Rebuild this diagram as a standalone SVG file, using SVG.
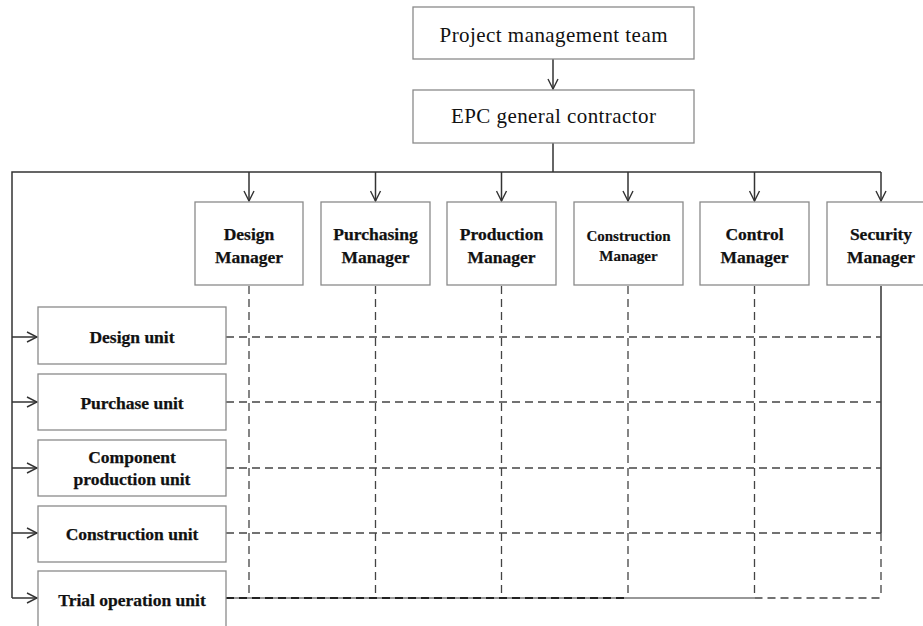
<svg xmlns="http://www.w3.org/2000/svg" width="923" height="626" viewBox="0 0 923 626">
<style>
.box{fill:#fff;stroke:#8a8a8a;stroke-width:1.3}
.t{font-family:"Liberation Serif",serif;fill:#111;text-anchor:middle}
.top{font-size:21px}
.b{font-size:17.5px;font-weight:bold;stroke:#111;stroke-width:0.25}
.s{font-size:15px;font-weight:bold;stroke:#111;stroke-width:0.2}
.ln{fill:none;stroke:#333;stroke-width:1.5}
.dl{fill:none;stroke:#444;stroke-width:1.3;stroke-dasharray:8 5}
</style>
<defs>
<marker id="ah" viewBox="0 0 12 12" refX="11" refY="6" markerWidth="12" markerHeight="12" markerUnits="userSpaceOnUse" orient="auto">
<path d="M1,1 L11,6 L1,11" fill="none" stroke="#333" stroke-width="1.4"/>
</marker>
</defs>
<rect width="923" height="626" fill="#fff"/>
<g id="connectors">
<line class="ln" x1="553" y1="59" x2="553" y2="89" marker-end="url(#ah)"/>
<line class="ln" x1="553" y1="143" x2="553" y2="172"/>
<polyline class="ln" points="12,598 12,172 881,172"/>
<line class="ln" x1="249" y1="172" x2="249" y2="201" marker-end="url(#ah)"/>
<line class="ln" x1="375.5" y1="172" x2="375.5" y2="201" marker-end="url(#ah)"/>
<line class="ln" x1="501.5" y1="172" x2="501.5" y2="201" marker-end="url(#ah)"/>
<line class="ln" x1="628" y1="172" x2="628" y2="201" marker-end="url(#ah)"/>
<line class="ln" x1="754.5" y1="172" x2="754.5" y2="201" marker-end="url(#ah)"/>
<line class="ln" x1="881" y1="172" x2="881" y2="201" marker-end="url(#ah)"/>
<line class="ln" x1="12" y1="337" x2="37" y2="337" marker-end="url(#ah)"/>
<line class="ln" x1="12" y1="402" x2="37" y2="402" marker-end="url(#ah)"/>
<line class="ln" x1="12" y1="468" x2="37" y2="468" marker-end="url(#ah)"/>
<line class="ln" x1="12" y1="533" x2="37" y2="533" marker-end="url(#ah)"/>
<line class="ln" x1="12" y1="598" x2="37" y2="598" marker-end="url(#ah)"/>
<line class="dl" x1="249" y1="286" x2="249" y2="598"/>
<line class="dl" x1="375.5" y1="286" x2="375.5" y2="598"/>
<line class="dl" x1="501.5" y1="286" x2="501.5" y2="598"/>
<line class="dl" x1="628" y1="286" x2="628" y2="598"/>
<line class="dl" x1="754.5" y1="286" x2="754.5" y2="598"/>
<line class="ln" x1="881" y1="286" x2="881" y2="533"/>
<line class="dl" x1="881" y1="533" x2="881" y2="598"/>
<line class="dl" x1="226" y1="337" x2="881" y2="337"/>
<line class="dl" x1="226" y1="402" x2="881" y2="402"/>
<line class="dl" x1="226" y1="468" x2="881" y2="468"/>
<line class="dl" x1="226" y1="533" x2="881" y2="533"/>
<line class="ln" x1="226" y1="598" x2="754.5" y2="598" style="stroke-width:1.2"/>
<line class="dl" x1="226" y1="598" x2="628" y2="598" style="stroke-width:2.2;stroke:#222"/>
<line class="dl" x1="754.5" y1="598" x2="881" y2="598"/>
</g>
<g id="n-pmt"><rect class="box" x="413" y="7" width="281" height="52"/><text class="t top" x="553.5" y="42" textLength="228" lengthAdjust="spacing">Project management team</text></g>
<g id="n-epc"><rect class="box" x="413" y="90" width="281" height="53"/><text class="t top" x="553.5" y="123" textLength="205" lengthAdjust="spacing">EPC general contractor</text></g>
<g id="n-design-mgr"><rect class="box" x="195" y="202" width="108" height="83"/><text class="t b" x="249" y="240">Design</text><text class="t b" x="249" y="263">Manager</text></g>
<g id="n-purch-mgr"><rect class="box" x="321" y="202" width="109" height="83"/><text class="t b" x="375.5" y="240">Purchasing</text><text class="t b" x="375.5" y="263">Manager</text></g>
<g id="n-prod-mgr"><rect class="box" x="447" y="202" width="109" height="83"/><text class="t b" x="501.5" y="240">Production</text><text class="t b" x="501.5" y="263">Manager</text></g>
<g id="n-cons-mgr"><rect class="box" x="574" y="202" width="109" height="83"/><text class="t s" x="628.5" y="241">Construction</text><text class="t s" x="628.5" y="261">Manager</text></g>
<g id="n-ctrl-mgr"><rect class="box" x="700" y="202" width="109" height="83"/><text class="t b" x="754.5" y="240">Control</text><text class="t b" x="754.5" y="263">Manager</text></g>
<g id="n-sec-mgr"><rect class="box" x="827" y="202" width="108" height="83"/><text class="t b" x="881" y="240">Security</text><text class="t b" x="881" y="263">Manager</text></g>
<g id="n-design-unit"><rect class="box" x="38" y="307" width="188" height="57"/><text class="t b" x="132" y="343">Design unit</text></g>
<g id="n-purchase-unit"><rect class="box" x="38" y="374" width="188" height="56"/><text class="t b" x="132" y="409">Purchase unit</text></g>
<g id="n-component-unit"><rect class="box" x="38" y="440" width="188" height="56"/><text class="t b" x="132" y="463">Component</text><text class="t b" x="132" y="485">production unit</text></g>
<g id="n-construction-unit"><rect class="box" x="38" y="506" width="188" height="56"/><text class="t b" x="132" y="540">Construction unit</text></g>
<g id="n-trial-unit"><rect class="box" x="38" y="571" width="188" height="60"/><text class="t b" x="132" y="606">Trial operation unit</text></g>
</svg>
